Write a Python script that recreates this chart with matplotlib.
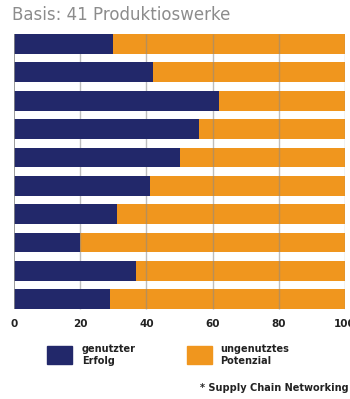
import matplotlib
matplotlib.use('Agg')
import matplotlib.pyplot as plt
from matplotlib.patches import Rectangle

# genutzter Erfolg (%) per Werk, top to bottom
genutzt = [30, 42, 62, 56, 50, 41, 31, 20, 37, 29]
gesamt = 100
ticks = [0, 20, 40, 60, 80, 100]

NAVY = '#22286a'
ORANGE = '#f0961e'
GRAY = '#8a8a8a'

fig = plt.figure(figsize=(3.5, 3.99), dpi=100)
ax = fig.add_axes([14/350, 1 - 312/399, 331/350, 281/399])

ypos = list(range(len(genutzt)))
ax.barh(ypos, [gesamt] * len(genutzt), height=0.7, color=ORANGE, zorder=1)
ax.vlines(ticks[1:], -0.35, len(genutzt) - 0.65, color=GRAY, linewidth=1.0, alpha=0.55, zorder=2)
ax.vlines([0], -0.35, len(genutzt) - 0.65, color=GRAY, linewidth=1.2, zorder=4)
ax.barh(ypos, genutzt, height=0.7, color=NAVY, zorder=3)

ax.set_xlim(0, 100)
ax.set_ylim(9.45, -0.46)
ax.set_xticks(ticks)
ax.set_xticklabels([str(t) for t in ticks], fontsize=7.5, fontweight='bold', color='#222222')
ax.set_yticks([])
ax.tick_params(axis='x', length=0, pad=5)
for s in ax.spines.values():
    s.set_visible(False)

fig.text(12/350, 1 - 15/399, 'Basis: 41 Produktioswerke', fontsize=12, color='#8c8c8c',
         va='center', ha='left')

# legend
fig.patches.append(Rectangle((47/350, 1 - 364/399), 25/350, 18/399, color=NAVY,
                             transform=fig.transFigure, figure=fig))
fig.patches.append(Rectangle((187/350, 1 - 364/399), 25/350, 18/399, color=ORANGE,
                             transform=fig.transFigure, figure=fig))
fig.text(82/350, 1 - 355/399, 'genutzter\nErfolg', fontsize=7, fontweight='bold',
         color='#222222', va='center', ha='left', linespacing=1.35)
fig.text(220/350, 1 - 355/399, 'ungenutztes\nPotenzial', fontsize=7, fontweight='bold',
         color='#222222', va='center', ha='left', linespacing=1.35)
fig.text(200/350, 1 - 388/399, '* Supply Chain Networking', fontsize=7, fontweight='bold',
         color='#222222', va='center', ha='left')

fig.savefig('out.png', dpi=100)
